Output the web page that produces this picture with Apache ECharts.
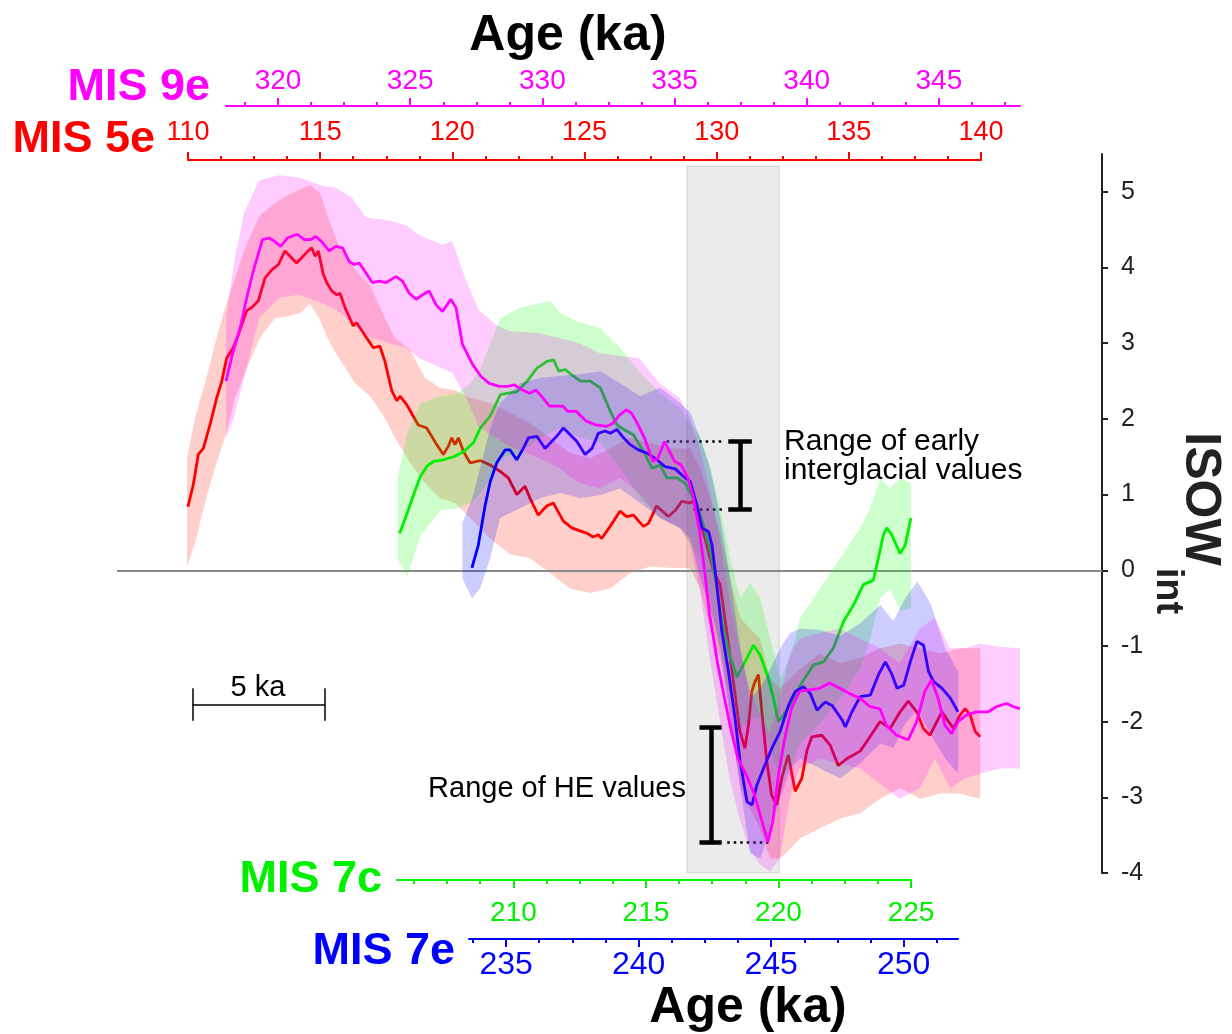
<!DOCTYPE html>
<html>
<head>
<meta charset="utf-8">
<script src="https://cdn.jsdelivr.net/npm/echarts@6.0.0/dist/echarts.min.js"></script>
<style>
html, body { margin: 0; padding: 0; background: #fff; }
#main { width: 1232px; height: 1034px; }
</style>
</head>
<body>
<div id="main"></div>
<script>
// MIS 5e (red), age in ka
var redX = [110.00,110.20,110.39,110.58,110.83,111.09,111.28,111.46,111.71,111.90,
	112.22,112.41,112.66,112.91,113.17,113.42,113.67,113.86,114.11,114.30,
	114.55,114.68,114.81,114.93,115.12,115.25,115.44,115.63,115.75,115.94,
	116.25,116.38,116.76,117.01,117.26,117.45,117.71,117.90,118.02,118.27,
	118.71,119.03,119.41,119.66,119.85,119.98,120.10,120.23,120.42,120.67,
	121.05,121.43,121.80,122.12,122.44,122.75,122.94,123.25,123.57,123.82,
	124.20,124.52,124.83,125.09,125.33,125.52,125.65,125.97,126.34,126.60,
	126.85,127.23,127.42,127.73,128.17,128.43,128.68,128.99,129.12,129.38,
	129.63,129.88,130.13,130.38,130.70,130.88,131.07,131.20,131.33,131.45,
	131.58,131.71,131.90,132.08,132.27,132.46,132.71,132.97,133.22,133.41,
	133.60,133.98,134.29,134.60,134.92,135.43,135.80,136.18,136.56,136.94,
	137.25,137.57,137.82,138.07,138.33,138.52,138.77,138.96,139.21,139.40,
	139.59,139.78,139.97];
var redY = [0.84,1.13,1.53,1.61,1.92,2.28,2.50,2.80,2.94,3.11,
	3.43,3.47,3.56,3.86,3.97,4.04,4.22,4.15,4.06,4.13,
	4.22,4.26,4.15,4.22,3.91,3.80,3.69,3.64,3.66,3.47,
	3.23,3.27,3.07,2.94,2.96,2.76,2.37,2.24,2.30,2.19,
	1.92,1.88,1.66,1.53,1.64,1.75,1.66,1.75,1.57,1.42,
	1.45,1.39,1.31,1.22,1.00,1.11,0.95,0.73,0.85,0.89,
	0.65,0.56,0.52,0.49,0.44,0.47,0.42,0.58,0.78,0.71,
	0.73,0.58,0.62,0.85,0.71,0.79,0.91,0.89,0.91,0.65,
	0.33,-0.01,-0.19,-0.81,-1.65,-2.13,-2.35,-2.05,-1.60,-1.47,
	-1.38,-1.87,-2.53,-2.97,-3.10,-2.75,-2.44,-2.92,-2.75,-2.39,
	-2.20,-2.18,-2.31,-2.58,-2.49,-2.39,-2.20,-2.00,-2.09,-1.87,
	-1.73,-1.87,-2.09,-2.18,-2.00,-1.87,-2.00,-2.09,-1.91,-1.83,
	-1.91,-2.13,-2.20];
var redBandX = [109.96,110.26,110.64,111.02,111.40,111.78,112.16,112.72,113.29,113.86,
	114.24,114.62,114.99,115.37,115.75,116.32,116.89,117.45,117.83,118.40,
	118.97,119.53,120.10,120.67,121.43,122.18,122.94,123.70,124.45,125.21,
	125.97,126.72,127.48,128.24,128.99,129.37,129.75,130.13,130.51,130.89,
	131.26,131.64,132.02,132.40,132.78,133.16,133.91,134.67,135.43,136.18,
	136.94,137.70,138.45,139.21,139.97];
var redHi = [1.48,2.01,2.47,2.99,3.47,3.86,4.26,4.69,4.85,4.97,
	5.03,5.09,4.99,4.59,4.26,3.97,3.76,3.33,3.07,2.91,
	2.54,2.41,2.38,2.28,2.21,2.08,1.94,1.75,1.55,1.48,
	1.61,1.75,1.68,1.61,1.61,1.35,0.95,0.49,-0.11,-0.63,
	-0.77,-0.90,-1.43,-1.56,-1.43,-1.30,-1.10,-1.23,-1.16,-1.03,
	-0.97,-1.03,-1.10,-1.03,-1.03];
var redLo = [0.05,0.36,0.89,1.35,1.75,2.28,2.61,3.07,3.33,3.36,
	3.40,3.52,3.31,3.00,2.78,2.47,2.30,2.01,1.75,1.42,
	1.15,0.95,0.89,0.69,0.42,0.21,0.16,-0.04,-0.24,-0.30,
	-0.24,-0.04,0.05,0.03,0.03,-0.24,-0.77,-1.16,-1.96,-2.88,
	-3.15,-3.41,-3.81,-3.81,-3.68,-3.54,-3.41,-3.28,-3.21,-3.02,
	-2.88,-3.02,-2.95,-2.95,-3.02];

// MIS 9e (magenta)
var magX = [318.03,318.27,318.59,318.84,319.09,319.41,319.66,319.85,320.10,320.35,
	320.73,320.98,321.24,321.43,321.68,321.93,322.19,322.44,322.69,322.88,
	323.07,323.32,323.57,323.83,324.08,324.46,324.71,324.96,325.22,325.47,
	325.72,325.97,326.22,326.54,326.73,326.98,327.36,327.68,327.99,328.37,
	328.69,328.94,329.25,329.51,329.76,330.01,330.27,330.52,330.77,330.96,
	331.28,331.66,332.03,332.41,332.66,332.92,333.17,333.36,333.55,333.86,
	334.18,334.37,334.62,334.81,335.00,335.25,335.50,335.69,335.95,336.14,
	336.33,336.64,336.89,337.15,337.40,337.72,338.03,338.28,338.53,338.72,
	338.91,339.17,339.42,339.73,340.11,340.49,340.87,341.25,341.63,342.01,
	342.39,342.77,343.02,343.40,343.84,344.16,344.47,344.72,344.97,345.23,
	345.48,345.73,346.05,346.43,346.87,347.19,347.56,347.81,348.07];
var magY = [2.50,2.85,3.24,3.64,3.99,4.37,4.39,4.35,4.28,4.39,
	4.44,4.37,4.37,4.41,4.33,4.22,4.28,4.26,4.08,4.04,
	4.06,3.93,3.80,3.82,3.80,3.88,3.82,3.66,3.58,3.64,
	3.69,3.51,3.42,3.58,3.47,2.98,2.72,2.56,2.47,2.43,
	2.43,2.45,2.38,2.34,2.38,2.28,2.17,2.17,2.17,2.10,
	2.10,1.97,1.92,1.90,1.94,2.05,2.12,2.08,1.97,1.75,
	1.44,1.48,1.70,1.57,1.44,1.39,1.22,1.00,0.51,-0.02,
	-0.59,-1.25,-1.69,-2.13,-2.49,-2.71,-2.97,-3.28,-3.59,-3.32,
	-2.75,-2.22,-1.83,-1.60,-1.58,-1.56,-1.49,-1.56,-1.63,-1.69,
	-1.80,-1.83,-2.05,-2.18,-2.24,-2.00,-1.60,-1.45,-1.69,-2.05,
	-2.16,-2.00,-1.91,-1.87,-1.87,-1.80,-1.76,-1.80,-1.83];
var magBandX = [318.03,318.33,318.71,319.28,320.04,320.80,321.67,322.20,322.80,323.33,
	324.20,324.85,325.34,326.21,326.59,327.12,327.61,328.26,328.75,329.89,
	330.64,331.40,332.16,332.92,333.67,334.43,335.19,335.57,335.95,336.33,
	336.70,337.08,337.46,337.84,338.22,338.60,338.98,339.36,339.73,340.49,
	341.25,342.01,342.77,343.52,344.28,344.85,345.42,345.98,346.55,347.31,
	348.07];
var magHi = [3.33,4.06,4.72,5.15,5.22,5.19,5.08,5.05,4.92,4.66,
	4.62,4.56,4.43,4.30,4.35,3.82,3.43,3.24,3.16,3.13,
	3.07,3.00,2.87,2.83,2.80,2.47,2.28,2.01,1.61,1.08,
	0.42,-0.37,-1.03,-1.56,-1.89,-2.16,-1.69,-1.10,-0.90,-0.83,
	-0.77,-0.90,-1.03,-1.23,-0.77,-0.63,-1.03,-1.03,-0.97,-1.01,
	-1.03];
var magLo = [1.75,2.01,2.54,3.33,3.60,3.64,3.53,3.44,3.27,3.10,
	3.00,2.94,2.80,2.67,2.61,2.28,1.88,1.75,1.64,1.48,
	1.35,1.15,1.08,1.22,1.02,0.69,0.56,0.36,-0.24,-1.16,
	-1.96,-2.75,-3.28,-3.68,-3.88,-3.98,-3.81,-3.02,-2.62,-2.49,
	-2.55,-2.62,-2.82,-3.02,-2.88,-2.49,-2.88,-2.75,-2.69,-2.62,
	-2.62];

// MIS 7c (green)
var greenX = [205.71,205.99,206.24,206.49,206.75,207.00,207.37,207.75,208.13,208.50,
	208.76,209.13,209.51,209.82,210.14,210.52,210.89,211.27,211.52,211.71,
	211.96,212.21,212.53,212.90,213.28,213.66,213.91,214.16,214.53,214.91,
	215.23,215.54,215.79,216.17,216.48,216.92,217.17,217.43,217.68,217.87,
	218.12,218.43,218.68,219.06,219.31,219.62,219.81,220.00,220.19,220.44,
	220.82,221.32,221.70,222.07,222.45,222.83,223.20,223.58,223.77,223.96,
	224.09,224.27,224.59,224.78,225.00];
var greenY = [0.49,0.75,1.00,1.24,1.38,1.44,1.46,1.50,1.57,1.69,
	1.88,2.04,2.32,2.34,2.36,2.50,2.67,2.76,2.78,2.63,
	2.65,2.58,2.50,2.50,2.41,2.10,1.92,1.86,1.79,1.57,
	1.35,1.39,1.22,1.22,1.15,0.86,0.60,0.25,-0.24,-0.68,
	-1.08,-1.41,-1.25,-0.99,-1.12,-1.43,-1.69,-2.00,-1.91,-1.78,
	-1.52,-1.25,-1.21,-1.03,-0.68,-0.46,-0.19,-0.13,0.16,0.47,
	0.56,0.47,0.22,0.33,0.69];
var greenBandX = [205.63,206.00,206.49,207.25,207.89,208.38,208.76,209.13,209.51,210.26,
	211.02,211.39,211.77,212.53,213.28,214.03,214.79,215.54,216.29,217.05,
	217.43,217.80,218.18,218.56,218.93,219.31,219.69,220.06,220.44,220.82,
	221.57,222.33,223.08,223.46,223.84,224.21,224.59,225.00];
var greenHi = [1.22,1.81,2.21,2.30,2.34,2.47,2.67,3.00,3.33,3.47,
	3.53,3.56,3.40,3.27,3.20,2.94,2.61,2.34,2.14,1.75,
	1.35,0.82,0.16,-0.37,-0.17,-0.37,-0.90,-1.43,-1.16,-0.63,
	-0.24,0.16,0.56,0.82,1.22,1.08,1.22,1.15];
var greenLo = [0.16,-0.08,0.46,0.79,0.82,0.89,1.02,1.22,1.48,1.55,
	1.75,1.81,1.88,1.75,1.68,1.35,0.95,0.69,0.56,0.16,
	-0.37,-1.03,-1.69,-2.09,-1.96,-1.96,-2.35,-2.75,-2.62,-2.29,
	-2.02,-1.69,-1.30,-0.90,-0.37,-0.24,-0.54,-0.50];

// MIS 7e (blue)
var blueX = [233.71,233.95,234.21,234.40,234.65,234.96,235.15,235.40,235.65,235.84,
	236.16,236.47,236.66,236.91,237.16,237.42,237.67,237.98,238.24,238.48,
	238.74,238.93,239.18,239.43,239.68,239.99,240.31,240.69,241.00,241.38,
	241.76,241.95,242.20,242.39,242.64,242.77,242.95,243.14,243.39,243.64,
	243.83,244.09,244.28,244.46,244.71,245.03,245.34,245.66,245.91,246.22,
	246.48,246.73,247.04,247.31,247.68,247.80,248.05,248.36,248.74,249.05,
	249.31,249.56,249.75,250.00,250.25,250.50,250.75,250.94,251.13,251.45,
	251.76,252.05];
var blueY = [0.03,0.33,0.86,1.17,1.42,1.59,1.59,1.46,1.61,1.75,
	1.77,1.61,1.68,1.77,1.88,1.79,1.70,1.53,1.61,1.81,
	1.84,1.81,1.86,1.75,1.66,1.59,1.55,1.46,1.37,1.34,
	1.22,1.17,0.86,0.56,0.51,0.33,-0.19,-0.81,-1.34,-1.96,
	-2.53,-3.06,-3.10,-2.84,-2.62,-2.35,-2.13,-1.78,-1.60,-1.54,
	-1.63,-1.85,-1.74,-1.79,-1.98,-2.07,-1.87,-1.67,-1.65,-1.38,
	-1.21,-1.38,-1.56,-1.52,-1.21,-0.94,-0.99,-1.34,-1.47,-1.56,
	-1.69,-1.87];
var blueBandX = [233.35,233.72,234.02,234.40,234.77,235.53,236.28,237.04,237.79,238.55,
	239.30,240.06,240.81,241.57,241.95,242.32,242.70,243.08,243.46,243.84,
	244.21,244.59,244.97,245.34,245.72,246.10,246.85,247.61,248.36,249.12,
	249.61,250.06,250.52,251.01,251.57,252.06];
var blueHi = [0.62,0.95,1.35,1.88,2.21,2.47,2.54,2.57,2.59,2.63,
	2.47,2.30,2.41,2.21,2.08,1.75,1.35,0.69,-0.11,-1.03,
	-1.69,-1.56,-1.30,-1.03,-0.83,-0.77,-0.79,-0.87,-0.70,-0.46,
	-0.67,-0.37,-0.15,-0.44,-1.03,-1.34];
var blueLo = [-0.11,-0.37,-0.24,0.16,0.69,0.82,0.95,1.02,0.95,0.99,
	1.08,0.89,0.69,0.56,0.42,-0.11,-0.50,-1.03,-1.96,-2.88,
	-3.74,-3.81,-3.41,-3.02,-2.62,-2.49,-2.62,-2.75,-2.55,-2.29,
	-2.35,-2.02,-1.85,-2.16,-2.49,-2.69];

// tick values
var yTicks = [-4, -3, -2, -1, 0, 1, 2, 3, 4, 5];
var redMajor = [110, 115, 120, 125, 130, 135, 140];
var redMinor = [111.25,112.5,113.75,116.25,117.5,118.75,121.25,122.5,123.75,126.25,127.5,128.75,131.25,132.5,133.75,136.25,137.5,138.75];
var magMajor = [320, 325, 330, 335, 340, 345];
var magMinor = [318.75,321.25,322.5,323.75,326.25,327.5,328.75,331.25,332.5,333.75,336.25,337.5,338.75,341.25,342.5,343.75,346.25,347.5];
var greenMajor = [210, 215, 220, 225];
var greenMinor = [206.25,207.5,208.75,211.25,212.5,213.75,216.25,217.5,218.75,221.25,222.5,223.75];
var blueMajor = [235, 240, 245, 250];
var blueMinor = [233.75,236.25,237.5,238.75,241.25,242.5,243.75,246.25,247.5,248.75,251.25];

// grey box and annotations (5e ka, ISOW)
var boxX = [128.88, 132.36];
var boxY = [5.34, -4.03];
var earlyBar = { x: 130.89, capL: 130.44, capR: 131.33, top: 1.70, bot: 0.81, dotTopFrom: 128.11, dotBotFrom: 129.12, dotTo: 130.32 };
var heBar = { x: 129.78, capL: 129.35, capR: 130.19, top: -2.07, bot: -3.60, dotFrom: 130.40, dotTo: 131.96 };
var scaleBar = { x0: 110.17, x1: 115.19, y: -1.78, capTop: -1.56, capBot: -1.99 };

var FONT = '"Liberation Sans", Arial, Helvetica, sans-serif';
var RED = '#ff0000', MAG = '#ff00ff', GREEN = '#00f000', BLUE = '#0000ff';

function pairs(xs, ys) {
	return xs.map(function (x, i) { return [x, ys[i]]; });
}

function band(xs, lo, hi, xi, yi, fill, z) {
	return {
		type: 'custom', xAxisIndex: xi, yAxisIndex: yi, z: z, silent: true,
		data: [[xs[0], hi[0]]],
		renderItem: function (params, api) {
			var pts = [];
			for (var i = 0; i < xs.length; i++) pts.push(api.coord([xs[i], hi[i]]));
			for (var j = xs.length - 1; j >= 0; j--) pts.push(api.coord([xs[j], lo[j]]));
			return { type: 'polygon', shape: { points: pts }, style: { fill: fill } };
		}
	};
}

function curve(xs, ys, xi, yi, color, z) {
	return {
		type: 'line', xAxisIndex: xi, yAxisIndex: yi, z: z, silent: true,
		data: pairs(xs, ys), showSymbol: false, symbol: 'none',
		lineStyle: { color: color, width: 2.8 }
	};
}

function majorAxis(gi, pos, off, min, max, color, ticks, fs, margin) {
	return {
		type: 'value', gridIndex: gi, position: pos, offset: off, min: min, max: max,
		axisLine: { show: true, onZero: false, lineStyle: { color: color, width: 2 } },
		axisTick: { show: true, customValues: ticks, length: 8, lineStyle: { color: color, width: 2 } },
		axisLabel: { show: true, customValues: ticks, color: color, fontSize: fs, fontFamily: FONT, margin: margin },
		splitLine: { show: false }
	};
}

function minorAxis(gi, pos, off, min, max, color, ticks) {
	return {
		type: 'value', gridIndex: gi, position: pos, offset: off, min: min, max: max,
		axisLine: { show: false, onZero: false },
		axisTick: { show: true, customValues: ticks, length: 4, lineStyle: { color: color, width: 2 } },
		axisLabel: { show: false },
		splitLine: { show: false }
	};
}

function hiddenY(gi) {
	return { type: 'value', gridIndex: gi, min: -4, max: 5.5, show: false, axisLine: { onZero: false } };
}

function seg(x0, y0, x1, y1, style) {
	return [{ coord: [x0, y0], lineStyle: style }, { coord: [x1, y1], lineStyle: style }];
}

function txt(s, x, y, font, fill, align, rot) {
	return {
		type: 'text', x: x, y: y, rotation: rot || 0, silent: true, z: 50,
		style: { text: s, font: font, fill: fill, align: align, verticalAlign: 'middle' }
	};
}

var thick = { color: '#000', width: 4.5, type: 'solid' };
var dots = { color: '#000', width: 2.5, type: [2.5, 4] };
var thin = { color: '#000', width: 1.5, type: 'solid' };

var gridBase = { top: 154, bottom: 161, outerBoundsMode: 'none' };
function grid(l, r) { return Object.assign({ left: l, right: r }, gridBase); }

var myChart = echarts.init(document.getElementById('main'));
var option = {
	animation: false,
	backgroundColor: '#fff',
	grid: [grid(117, 130), grid(188, 251), grid(226, 212), grid(397, 321), grid(469, 274)],
	xAxis: [
		{ type: 'value', gridIndex: 0, min: 0, max: 1, show: false, axisLine: { onZero: false } },
		majorAxis(1, 'top', -6, 110, 140, RED, redMajor, 27, 14),
		minorAxis(1, 'top', -6, 110, 140, RED, redMinor),
		majorAxis(2, 'top', 48, 318.03, 348.07, MAG, magMajor, 28, 11),
		minorAxis(2, 'top', 48, 318.03, 348.07, MAG, magMinor),
		majorAxis(3, 'bottom', 7, 205.61, 225, GREEN, greenMajor, 28, 19),
		minorAxis(3, 'bottom', 7, 205.61, 225, GREEN, greenMinor),
		majorAxis(4, 'bottom', 66, 233.60, 252.05, BLUE, blueMajor, 32, 10),
		minorAxis(4, 'bottom', 66, 233.60, 252.05, BLUE, blueMinor)
	],
	yAxis: [
		{
			type: 'value', gridIndex: 0, position: 'right', min: -4, max: 5.5,
			axisLine: { show: true, onZero: false, lineStyle: { color: '#222', width: 2 } },
			axisTick: { show: true, customValues: yTicks, length: 6, lineStyle: { color: '#222', width: 2 } },
			axisLabel: { customValues: yTicks, color: '#222', fontSize: 25, fontFamily: FONT, margin: 19 },
			splitLine: { show: false }
		},
		hiddenY(1), hiddenY(2), hiddenY(3), hiddenY(4)
	],
	series: [
		{
			type: 'line', xAxisIndex: 1, yAxisIndex: 1, z: 1, data: [], silent: true,
			markArea: {
				silent: true,
				itemStyle: { color: '#ebebeb', borderColor: '#d2d2d2', borderWidth: 1 },
				data: [[{ coord: [boxX[0], boxY[0]] }, { coord: [boxX[1], boxY[1]] }]]
			}
		},
		{
			type: 'line', xAxisIndex: 0, yAxisIndex: 0, z: 1, data: [], silent: true,
			markLine: {
				silent: true, symbol: 'none', label: { show: false },
				lineStyle: { color: '#8a8a8a', width: 2, type: 'solid' },
				data: [{ yAxis: 0 }]
			}
		},
		band(redBandX, redLo, redHi, 1, 1, 'rgba(255,40,20,0.22)', 3),
		curve(redX, redY, 1, 1, RED, 4),
		band(greenBandX, greenLo, greenHi, 5, 3, 'rgba(0,255,0,0.2)', 5),
		curve(greenX, greenY, 5, 3, GREEN, 6),
		band(blueBandX, blueLo, blueHi, 7, 4, 'rgba(0,0,255,0.2)', 7),
		curve(blueX, blueY, 7, 4, BLUE, 8),
		band(magBandX, magLo, magHi, 3, 2, 'rgba(255,0,255,0.2)', 9),
		curve(magX, magY, 3, 2, MAG, 10),
		{
			type: 'line', xAxisIndex: 1, yAxisIndex: 1, z: 20, data: [], silent: true,
			markLine: {
				silent: true, symbol: 'none', label: { show: false },
				data: [
					seg(earlyBar.x, earlyBar.top, earlyBar.x, earlyBar.bot, thick),
					seg(earlyBar.capL, earlyBar.top, earlyBar.capR, earlyBar.top, thick),
					seg(earlyBar.capL, earlyBar.bot, earlyBar.capR, earlyBar.bot, thick),
					seg(earlyBar.dotTopFrom, earlyBar.top, earlyBar.dotTo, earlyBar.top, dots),
					seg(earlyBar.dotBotFrom, earlyBar.bot, earlyBar.dotTo, earlyBar.bot, dots),
					seg(heBar.x, heBar.top, heBar.x, heBar.bot, thick),
					seg(heBar.capL, heBar.top, heBar.capR, heBar.top, thick),
					seg(heBar.capL, heBar.bot, heBar.capR, heBar.bot, thick),
					seg(heBar.dotFrom, heBar.bot, heBar.dotTo, heBar.bot, dots),
					seg(scaleBar.x0, scaleBar.y, scaleBar.x1, scaleBar.y, thin),
					seg(scaleBar.x0, scaleBar.capTop, scaleBar.x0, scaleBar.capBot, thin),
					seg(scaleBar.x1, scaleBar.capTop, scaleBar.x1, scaleBar.capBot, thin)
				]
			}
		}
	],
	graphic: [
		txt('Age (ka)', 568, 36, 'bold 50px ' + FONT, '#000', 'center'),
		txt('MIS 9e', 210, 88, 'bold 45px ' + FONT, MAG, 'right'),
		txt('MIS 5e', 155, 140, 'bold 45px ' + FONT, RED, 'right'),
		txt('MIS 7c', 382, 880, 'bold 45px ' + FONT, GREEN, 'right'),
		txt('MIS 7e', 455, 952, 'bold 45px ' + FONT, BLUE, 'right'),
		txt('Age (ka)', 748, 1008, 'bold 50px ' + FONT, '#000', 'center'),
		txt('ISOW', 1200, 499, 'bold 50px ' + FONT, '#222', 'center', -Math.PI / 2),
		txt('int', 1167, 591, 'bold 38px ' + FONT, '#222', 'center', -Math.PI / 2),
		txt('Range of early', 784, 442, '30px ' + FONT, '#000', 'left'),
		txt('interglacial values', 784, 471, '30px ' + FONT, '#000', 'left'),
		txt('Range of HE values', 686, 789, '29px ' + FONT, '#000', 'right'),
		txt('5 ka', 258, 688, '29px ' + FONT, '#000', 'center')
	]
};
myChart.setOption(option);
</script>
</body>
</html>
